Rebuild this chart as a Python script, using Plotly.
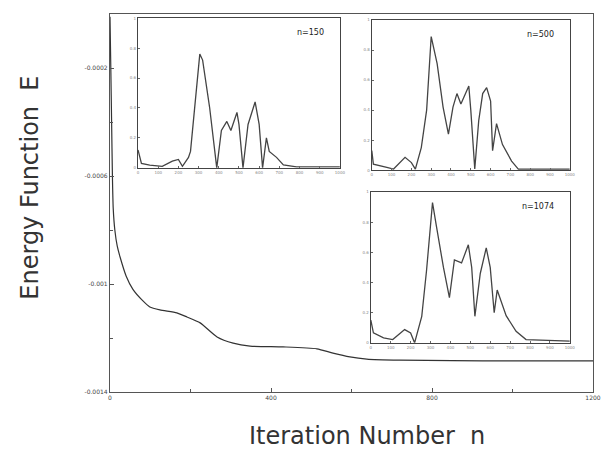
import plotly.graph_objects as go

# Main curve: energy function vs iteration number
n_main = [0, 2, 4, 6, 8, 12, 18, 25, 40, 57, 80, 99, 124, 166, 191, 224, 266, 306, 348, 430, 514, 554, 596, 638, 720, 850, 1000, 1200]
e_main = [-0.00001, -0.0002, -0.0004, -0.0006, -0.00072, -0.0008, -0.00086, -0.0009, -0.00097, -0.00102, -0.00106, -0.001085, -0.001096, -0.001107, -0.001122, -0.001144, -0.001196, -0.001219, -0.00123, -0.001233, -0.00124, -0.001256, -0.00127, -0.001278, -0.001282, -0.001284, -0.001285, -0.001285]

# Inset curves (relative units)
x_150 = [0, 17, 58, 120, 170, 200, 220, 250, 260, 280, 306, 320, 355, 390, 413, 440, 460, 490, 500, 520, 545, 580, 600, 617, 636, 650, 686, 720, 785, 1000]
y_150 = [0.12, 0.03, 0.018, 0.01, 0.045, 0.056, 0.01, 0.07, 0.11, 0.38, 0.76, 0.72, 0.40, 0.0, 0.25, 0.31, 0.25, 0.37, 0.29, 0.0, 0.29, 0.44, 0.29, 0.0, 0.2, 0.11, 0.07, 0.02, 0.007, 0.007]

x_500 = [0, 8, 76, 110, 168, 200, 220, 250, 277, 300, 330, 360, 387, 410, 430, 450, 490, 500, 520, 540, 560, 580, 600, 610, 630, 660, 706, 740, 1000]
y_500 = [0.13, 0.04, 0.018, 0.007, 0.085, 0.05, 0.007, 0.15, 0.40, 0.89, 0.71, 0.42, 0.24, 0.42, 0.51, 0.44, 0.56, 0.40, 0.007, 0.33, 0.51, 0.55, 0.46, 0.13, 0.31, 0.17, 0.06, 0.007, 0.007]

x_1074 = [0, 13, 64, 110, 170, 200, 220, 256, 280, 310, 330, 365, 395, 420, 456, 490, 507, 523, 550, 580, 600, 620, 635, 680, 730, 780, 1000]
y_1074 = [0.15, 0.066, 0.033, 0.022, 0.088, 0.066, 0.0, 0.176, 0.48, 0.93, 0.77, 0.5, 0.3, 0.55, 0.53, 0.65, 0.5, 0.176, 0.46, 0.63, 0.5, 0.2, 0.35, 0.18, 0.077, 0.022, 0.011]

inset_labels = ["n=150", "n=500", "n=1074"]

main_xticks = [0, 400, 800, 1200]
main_yticks = [-0.0002, -0.0006, -0.001, -0.0014]
main_ytick_text = ["-0.0002", "-0.0006", "-0.001", "-0.0014"]
inset_xticks = [0, 100, 200, 300, 400, 500, 600, 700, 800, 900, 1000]
inset_yticks = [0, 0.2, 0.4, 0.6, 0.8, 1.0]

x_title = "Iteration Number&nbsp;&nbsp;n"
y_title = "Energy Function&nbsp;&nbsp;E"

fig = go.Figure()
line_col = "#333333"
fig.add_trace(go.Scatter(x=n_main, y=e_main, mode="lines", line=dict(color=line_col, width=1.2, shape="spline", smoothing=0.6), xaxis="x", yaxis="y", showlegend=False))

insets = [(x_150, y_150, "x2", "y2"), (x_500, y_500, "x3", "y3"), (x_1074, y_1074, "x4", "y4")]
for xs, ys, xa, ya in insets:
    fig.add_trace(go.Scatter(x=xs, y=ys, mode="lines", line=dict(color="#444444", width=1.3), xaxis=xa, yaxis=ya, showlegend=False))

axis_common = dict(showline=True, linecolor="#555555", linewidth=1.3, mirror=True, showgrid=False, zeroline=False, ticks="inside", ticklen=4, tickcolor="#555555")

layout = dict(
    width=613, height=452,
    margin=dict(l=110, r=20, t=14, b=60),
    paper_bgcolor="white", plot_bgcolor="white",
    font=dict(family="DejaVu Sans", color="#333333"),
    xaxis=dict(domain=[0, 1], range=[0, 1200], tickvals=main_xticks, ticktext=[str(v) for v in main_xticks],
               tickfont=dict(size=6, color="#444444"), minor=dict(tickvals=[200, 600, 1000], ticks="inside", ticklen=3, tickcolor="#555555"),
               **axis_common),
    yaxis=dict(domain=[0, 1], range=[-0.0014, 0], tickvals=main_yticks, ticktext=main_ytick_text,
               tickfont=dict(size=6, color="#444444"), minor=dict(tickvals=[-0.0004, -0.0008, -0.0012], ticks="inside", ticklen=3, tickcolor="#555555"),
               **axis_common),
)

domains = [([0.058, 0.476], [0.593, 0.989]), ([0.542, 0.952], [0.587, 0.984]), ([0.540, 0.952], [0.130, 0.529])]
inset_ax_common = dict(showline=True, linecolor="#444444", linewidth=1.2, mirror=True, showgrid=False, zeroline=False,
                       ticks="inside", ticklen=2, tickcolor="#666666", tickfont=dict(size=4, color="#888888"))
for i, (dx, dy) in enumerate(domains):
    k = i + 2
    layout[f"xaxis{k}"] = dict(domain=dx, anchor=f"y{k}", range=[0, 1000], tickvals=inset_xticks, **inset_ax_common)
    layout[f"yaxis{k}"] = dict(domain=dy, anchor=f"x{k}", range=[0, 1.0], tickvals=inset_yticks, **inset_ax_common)

fig.update_layout(**layout)

for i, lbl in enumerate(inset_labels):
    k = i + 2
    fig.add_annotation(text=lbl, xref=f"x{k} domain", yref=f"y{k} domain", x=0.93, y=0.95,
                       xanchor="right", yanchor="top", showarrow=False, font=dict(size=8, color="#222222"))

fig.add_annotation(text=x_title, xref="paper", yref="paper", x=0.532, y=-0.116, xanchor="center", yanchor="middle",
                   showarrow=False, font=dict(size=24, color="#333333"))
fig.add_annotation(text=y_title, xref="paper", yref="paper", x=-0.166, y=0.54, xanchor="center", yanchor="middle",
                   textangle=-90, showarrow=False, font=dict(size=24, color="#333333"))

fig.write_html("out.html", config={"displayModeBar": False}, post_script="document.body.style.margin='0';")
